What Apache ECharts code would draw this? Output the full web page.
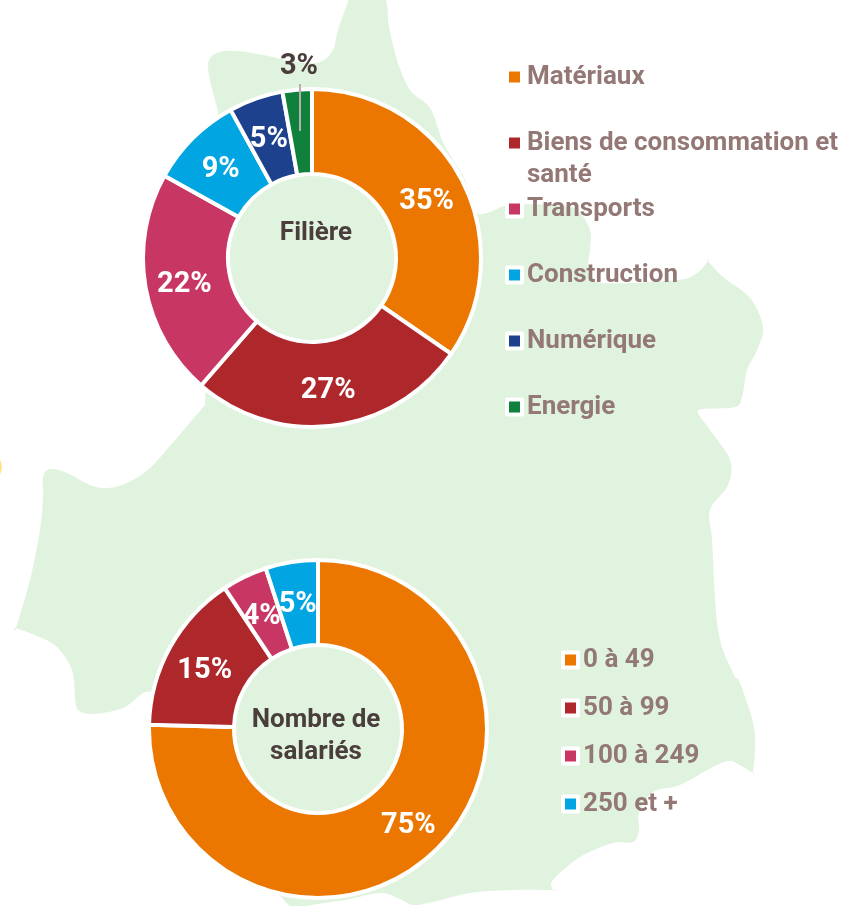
<!DOCTYPE html>
<html><head><meta charset="utf-8">
<style>html,body{margin:0;padding:0;background:#fff}#c{width:846px;height:906px}</style>
<script src="https://cdn.jsdelivr.net/npm/echarts@6/dist/echarts.min.js"></script>
</head><body><div id="c"></div>
<script>
const filiereNames = ['Matériaux','Biens de consommation et','Transports','Construction','Numérique','Energie'];
const filiereValues = [34.6,26.8,21.7,8.9,5.2,2.8];
const filiereTitle = 'Filière';
const filiereWrap = 'santé';
const salariesNames = ['0 à 49','50 à 99','100 à 249','250 et +'];
const salariesValues = [75.4,15.3,4.3,5.0];
const salariesTitle = 'Nombre de\nsalariés';
const palette = ['#EC7700','#AE272B','#C83764','#00A5E1','#1E418D','#0F813C'];

const FONT = 'Roboto, sans-serif';
const BG = '#E0F3DE', LEG = '#937876', DARK = '#4A3E3C';

// decorative map silhouette behind the charts; a repeated point gives a sharp corner
const mapOutline = [
[350,-4],[383,-4],[389,27],[397,60],[410,90],[430,108],[442,140],[453,160],[465,180],[472,205],[478,214],[490,212],[510,205],[557,205],[577,210],[590,230],[590,250],[588,273],[603,283],[677,280],[697,273],[708,261],[708,261],[723,277],[750,298],[763,327],[757,350],[747,370],[742,397],[735,407],[703,409],[698,413],[710,430],[730,460],[728,485],[710,510],[712,540],[718,630],[733,673],[740,683],[753,723],[755,747],[753,773],[753,773],[743,767],[730,761],[713,767],[680,785],[653,792],[639,813],[639,830],[633,842],[613,843],[580,857],[553,880],[553,890],[553,890],[510,890],[470,893],[433,902],[413,905],[400,899],[380,893],[345,900],[307,906],[298,912],[290,906],[282,898],[260,870],[260,870],[152,692],[152,692],[143,693],[123,708],[93,714],[78,710],[75,697],[72,670],[57,647],[37,636],[16,628],[16,628],[30,580],[40,530],[43,497],[43,477],[50,469],[67,473],[90,485],[107,488],[127,483],[150,468],[175,440],[205,405],[205,405],[218,112],[218,112],[208,67],[217,53],[237,51],[263,55],[297,62],[320,62],[333,50],[338,30],[350,-4]
];
function splinePoints(p){
  const out=[];
  for(let i=0;i<p.length-1;i++){
    const a=p[Math.max(i-1,0)],b=p[i],c=p[i+1],e=p[Math.min(i+2,p.length-1)];
    const c1=[b[0]+(c[0]-a[0])/6,b[1]+(c[1]-a[1])/6],c2=[c[0]-(e[0]-b[0])/6,c[1]-(e[1]-b[1])/6];
    for(let k=0;k<10;k++){
      const t=k/10,u=1-t;
      out.push([0,1].map(j=>u*u*u*b[j]+3*u*u*t*c1[j]+3*u*t*t*c2[j]+t*t*t*c[j]));
    }
  }
  return out;
}
const toItems=(names,values)=>names.map((n,i)=>({name:n,value:values[i],itemStyle:{color:palette[i]}}));
const pct=p=>Math.round(p.value)+'%';

function pie(name,center,items,outsideIndex){
  return {type:'pie',name,center,radius:[84,169],startAngle:90,clockwise:true,animation:false,
    silent:true,avoidLabelOverlap:false,minAngle:0,
    itemStyle:{borderColor:'#fff',borderWidth:4},
    label:{show:true,position:'inside',formatter:pct,color:'#fff',fontFamily:FONT,fontWeight:700,fontSize:29},
    labelLine:{show:false},emphasis:{disabled:true},data:items,
    labelLayout:function(p){
      if(p.dataIndex===outsideIndex) return {x:299,y:67,align:'center',verticalAlign:'middle',hideOverlap:false};
      return {dy:4,hideOverlap:false};
    }};
}
const filiereItems=toItems(filiereNames,filiereValues);
// Last slice: outside dark label
filiereItems[5].label={show:true,position:'outside',color:DARK};

const fil=pie('Filière',[312,258],filiereItems,5);
const sal=pie('Nombre de salariés',[318,729],toItems(salariesNames,salariesValues),-1);

function legend(names,left,top,gap){
  return {data:names,left,top,orient:'vertical',icon:'rect',itemWidth:15,itemHeight:15,itemGap:gap,
    selectedMode:false,padding:0,
    itemStyle:{borderColor:'#fff',borderWidth:4},
    textStyle:{color:LEG,fontFamily:FONT,fontWeight:700,fontSize:26,lineHeight:30}};
}
const option={
  animation:false,backgroundColor:'#fff',
  title:[
    {text:filiereTitle,left:316,top:218,padding:0,textAlign:'center',textStyle:{color:DARK,fontFamily:FONT,fontWeight:700,fontSize:26,lineHeight:30}},
    {text:salariesTitle,left:316,top:704,padding:0,textAlign:'center',textStyle:{color:DARK,fontFamily:FONT,fontWeight:700,fontSize:26,lineHeight:32}}
  ],
  legend:[legend(filiereNames,505,62,36),legend(salariesNames,561,645,18)],
  series:[fil,sal],
  graphic:[
    {type:'polygon',z:-2,silent:true,shape:{points:splinePoints(mapOutline)},style:{fill:BG}},
    {type:'circle',z:-2,silent:true,shape:{cx:-13,cy:467,r:15},style:{fill:'#FFE38A'}},
    {type:'line',z:10,silent:true,shape:{x1:300,y1:84,x2:300,y2:131},style:{stroke:'#B8B0B0',lineWidth:2}},
    {type:'text',z:10,silent:true,left:527,top:162,style:{text:filiereWrap,fill:LEG,fontFamily:FONT,fontWeight:700,fontSize:26}}
  ]
};
echarts.init(document.getElementById('c'),null,{renderer:'canvas'}).setOption(option);
</script></body></html>
